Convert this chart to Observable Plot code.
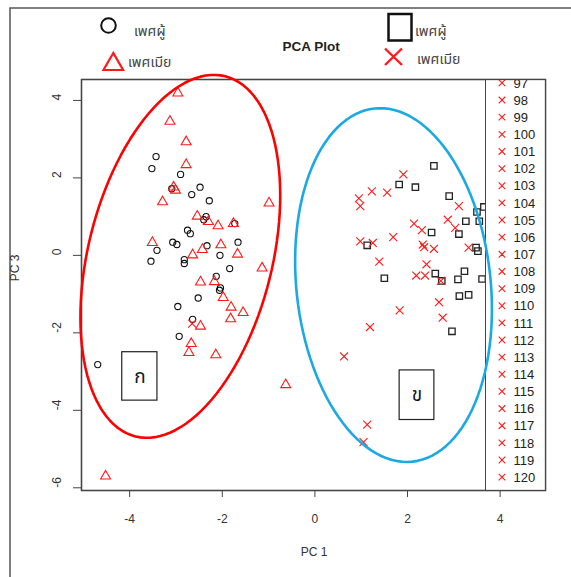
<!DOCTYPE html>
<html><head><meta charset="utf-8">
<script src="https://cdn.jsdelivr.net/npm/d3@7"></script>
<script src="https://cdn.jsdelivr.net/npm/@observablehq/plot@0.6"></script>
<style>
body{margin:0;background:#fff;font-family:Arial,"Liberation Sans",sans-serif}
#wrap{position:relative;width:571px;height:577px;overflow:hidden;background:#fff}
#wrap > *{position:absolute;left:0;top:0}
</style></head><body><div id="wrap"></div>
<script>
// ---- data (PC1, PC3) ----
const maleAX = [-3.43,-3.52,-2.90,-2.48,-3.09,-2.66,-2.28,-2.35,-2.40,-1.73,-2.75,-2.69,-3.07,-2.98,-2.33,-1.66,-3.41,-2.05,-3.54,-2.82,-2.82,-1.84,-2.13,-2.04,-2.06,-2.52,-2.96,-2.64,-2.93,-4.69];
const maleAY = [2.55,2.24,2.09,1.76,1.72,1.57,1.41,1.00,0.92,0.82,0.65,0.56,0.34,0.28,0.25,0.34,0.13,0.00,-0.15,-0.11,-0.21,-0.34,-0.54,-0.84,-0.90,-1.10,-1.32,-1.65,-2.09,-2.82];
const femaleAX = [-2.96,-3.13,-2.78,-2.78,-3.05,-3.01,-3.29,-0.99,-2.54,-2.30,-2.09,-1.76,-3.51,-2.03,-2.64,-2.43,-1.67,-1.14,-2.47,-2.17,-1.98,-1.81,-1.55,-1.82,-2.47,-2.67,-2.72,-2.14,-0.63,-4.52];
const femaleAY = [4.19,3.46,2.93,2.34,1.76,1.68,1.38,1.35,1.01,0.87,0.76,0.82,0.33,0.27,0.01,0.15,0.03,-0.33,-0.69,-0.68,-1.09,-1.34,-1.48,-1.64,-1.83,-2.28,-2.51,-2.57,-3.34,-5.70];
const maleBX = [2.57,1.82,2.17,2.90,3.50,3.65,3.55,3.26,2.52,3.11,1.13,3.48,3.52,1.50,2.60,2.74,3.09,3.23,3.61,3.12,3.32,2.96];
const maleBY = [2.31,1.83,1.76,1.53,1.12,1.25,0.88,0.88,0.59,0.55,0.26,0.20,0.11,-0.59,-0.47,-0.66,-0.62,-0.41,-0.61,-1.05,-1.02,-1.96];
const femaleBX = [1.91,1.23,1.56,0.95,0.98,3.11,2.87,3.03,2.14,2.31,1.69,0.98,1.25,2.33,2.36,2.57,3.32,1.39,2.41,2.19,2.38,2.72,2.68,1.83,2.76,1.19,0.63,1.13,1.05,-2.65];
const femaleBY = [2.09,1.65,1.62,1.47,1.27,1.27,0.92,0.71,0.82,0.65,0.47,0.36,0.32,0.28,0.21,0.17,0.20,-0.16,-0.23,-0.52,-0.52,-0.66,-1.21,-1.42,-1.61,-1.85,-2.61,-4.37,-4.82,-1.76];

const xTicks = [-4,-2,0,2,4];
const yTicks = [-6,-4,-2,0,2,4];
const legendIds = [97,98,99,100,101,102,103,104,105,106,107,108,109,110,111,112,113,114,115,116,117,118,119,120];
const maleLabel = "เพศผู้", femaleLabel = "เพศเมีย";
const titleText = "PCA Plot", xLabel = "PC 1", yLabel = "PC 3";

// group ellipses (centre, half-axis vectors in data units)
const ellipseNames = ["ก","ข"];
const ellipseColors = ["#ff0000","#1aa9e3"];
const ellipseCX = [-2.906, 1.698];
const ellipseCY = [-0.026, -0.767];
const ellipseAX = [0.968, -0.411];
const ellipseAY = [4.649, 4.558];
const ellipseBX = [1.928, 2.085];
const ellipseBY = [-0.576, 0.270];
// labelled boxes
const boxX1 = [-4.16, 1.83], boxX2 = [-3.40, 2.58];
const boxY1 = [-2.50, -2.97], boxY2 = [-3.75, -4.25];

// ---- layout ----
const W = 571, H = 577;
const M = {marginTop: 79, marginRight: 26, marginBottom: 87, marginLeft: 81};
const xDomain = [-5.04, 4.98], yDomain = [-6.07, 4.54];
const thaiFont = "'Noto Sans Thai','Tahoma','DejaVu Sans',Arial,sans-serif";
const RED = "#ff1a1a";

const toPts = (xs, ys) => xs.map((x, i) => ({x, y: ys[i]}));
const circles = toPts(maleAX, maleAY), triangles = toPts(femaleAX, femaleAY);
const squares = toPts(maleBX, maleBY), crosses = toPts(femaleBX, femaleBY);

const basePlot = Plot.plot({
  width: W, height: H, ...M,
  x: {domain: xDomain}, y: {domain: yDomain},
  style: {fontFamily: "Arial,'Liberation Sans',sans-serif", fontSize: "12px", color: "#333", background: "white"},
  marks: [
    Plot.axisX({ticks: xTicks, tickSize: 7, tickPadding: 17, tickFormat: d => String(d), label: null, fontSize: 12, stroke: "#444"}),
    Plot.axisY({ticks: yTicks, tickSize: 8, tickFormat: () => "", label: null, stroke: "#444"}),
    Plot.text(yTicks, {y: d => d, text: d => String(d), frameAnchor: "left", dx: -24, rotate: -90, fontSize: 12, fill: "#333"}),
    Plot.dot(circles, {x: "x", y: "y", symbol: "circle", r: 3.1, stroke: "#111", strokeWidth: 1.1, fill: "none", clip: true}),
    Plot.dot(triangles, {x: "x", y: "y", symbol: "triangle", r: 3.7, stroke: RED, strokeWidth: 1.1, fill: "none", clip: true}),
    Plot.dot(squares, {x: "x", y: "y", symbol: "square", r: 3.6, stroke: "#222", strokeWidth: 1.3, fill: "none", clip: true}),
    Plot.dot(crosses, {x: "x", y: "y", symbol: "times", r: 3.7, stroke: RED, strokeWidth: 1.1, clip: true}),
    Plot.frame({stroke: "#444", strokeWidth: 1.3})
  ]
});

const ellipses = ellipseNames.map((name, i) => {
  const pts = d3.range(0, 361, 3).map(a => {
    const t = a * Math.PI / 180;
    return {x: ellipseCX[i] + ellipseAX[i] * Math.cos(t) + ellipseBX[i] * Math.sin(t),
            y: ellipseCY[i] + ellipseAY[i] * Math.cos(t) + ellipseBY[i] * Math.sin(t)};
  });
  return Plot.line(pts, {x: "x", y: "y", stroke: ellipseColors[i], strokeWidth: 2.6, curve: "linear"});
});
const boxes = ellipseNames.map((t, i) => ({t, x1: boxX1[i], x2: boxX2[i], y1: boxY1[i], y2: boxY2[i]}));

const overPlot = Plot.plot({
  width: W, height: H, ...M,
  x: {domain: xDomain, axis: null}, y: {domain: yDomain, axis: null},
  style: {background: "transparent"},
  marks: [
    Plot.frame({stroke: "#444", strokeWidth: 1.3}),
    ...ellipses,
    Plot.rect(boxes, {x1: "x1", x2: "x2", y1: "y1", y2: "y2", fill: "white", stroke: "#222", strokeWidth: 1.2}),
    Plot.text(boxes, {x: d => (d.x1 + d.x2) / 2, y: d => (d.y1 + d.y2) / 2, text: "t", fontSize: 19, fill: "#101828", fontFamily: thaiFont})
  ]
});

const wrap = d3.select("#wrap");
wrap.node().appendChild(basePlot);

// right-hand legend box
const legend = wrap.append("div")
  .style("left", "485px").style("top", "79px").style("width", "60px").style("height", "411px")
  .style("background", "white").style("border-left", "1.3px solid #444").style("overflow", "hidden");
const lsvg = legend.append("svg").attr("width", 60).attr("height", 411);
legendIds.forEach((id, i) => {
  const cy = 3.9 + 17.14 * i;
  lsvg.append("path").attr("d", `M${16-3.3},${cy-3.3}L${16+3.3},${cy+3.3}M${16-3.3},${cy+3.3}L${16+3.3},${cy-3.3}`)
    .attr("stroke", RED).attr("stroke-width", 1.1);
  lsvg.append("text").attr("x", 27.5).attr("y", cy).attr("dy", "0.36em")
    .attr("font-size", 13).attr("fill", "#222").attr("font-family", "Arial,'Liberation Sans',sans-serif").text(id);
});

wrap.node().appendChild(overPlot);

// header, titles and outer border
const o = wrap.append("svg").attr("width", W).attr("height", H).style("pointer-events", "none");
o.append("path").attr("d", `M10,${H}V8H${W}`).attr("fill", "none").attr("stroke", "#555").attr("stroke-width", 1.5);
o.append("text").attr("x", 311).attr("y", 51).attr("text-anchor", "middle").attr("font-weight", "bold")
  .attr("font-size", 13.5).attr("fill", "#222").attr("font-family", "Arial,'Liberation Sans',sans-serif").text(titleText);
o.append("circle").attr("cx", 108.5).attr("cy", 25.5).attr("r", 7.3).attr("fill", "none").attr("stroke", "#111").attr("stroke-width", 2);
o.append("path").attr("d", "M113.3,53L103.5,70L123.1,70Z").attr("fill", "none").attr("stroke", RED).attr("stroke-width", 2.2);
o.append("rect").attr("x", 388.5).attr("y", 14).attr("width", 23).attr("height", 26.5).attr("fill", "none").attr("stroke", "#111").attr("stroke-width", 2.5);
o.append("path").attr("d", "M385,48.5L402,65M385,65L402,48.5").attr("stroke", RED).attr("stroke-width", 2.4);
const keyText = [[134, 36, maleLabel], [128, 67, femaleLabel], [415, 36, maleLabel], [417, 64, femaleLabel]];
keyText.forEach(([x, y, t]) => o.append("text").attr("x", x).attr("y", y).attr("font-size", 14)
  .attr("fill", "#444").attr("font-family", thaiFont).text(t));
o.append("text").attr("x", 314).attr("y", 556).attr("text-anchor", "middle").attr("font-size", 12)
  .attr("fill", "#333").attr("font-family", "Arial,'Liberation Sans',sans-serif").text(xLabel);
o.append("text").attr("transform", "translate(19,268) rotate(-90)").attr("text-anchor", "middle").attr("font-size", 12)
  .attr("fill", "#333").attr("font-family", "Arial,'Liberation Sans',sans-serif").text(yLabel);
</script></body></html>
